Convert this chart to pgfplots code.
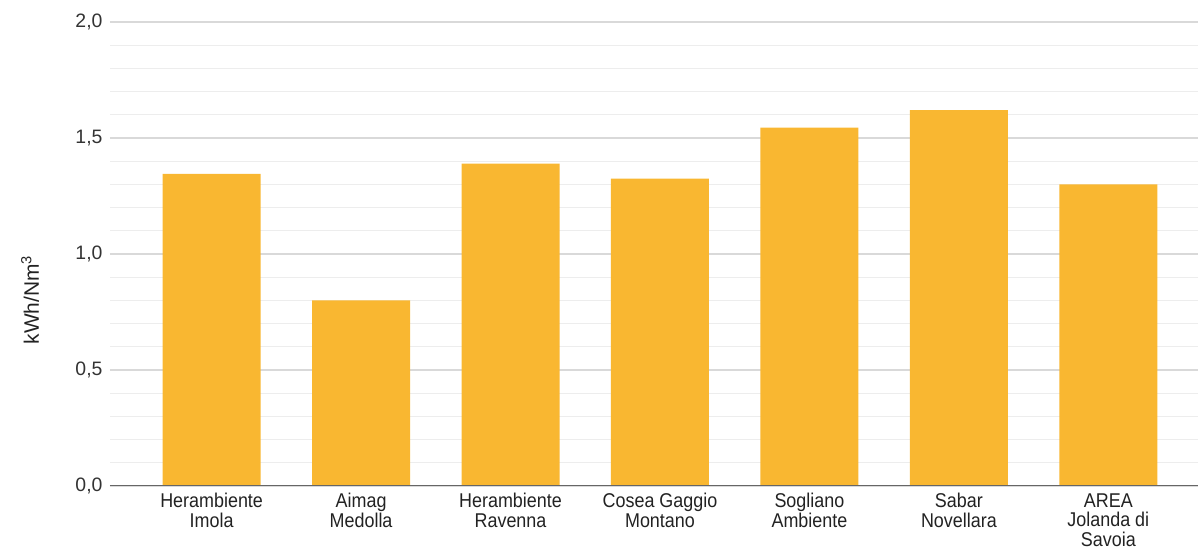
\documentclass[border=0pt]{standalone}
\usepackage{pgfplots}
\pgfplotsset{compat=1.18}
\usepackage{fontspec}
\setmainfont{Liberation Sans}
\newfontfamily\narrow[FakeStretch=0.9]{Liberation Sans}
\definecolor{barc}{HTML}{F9B731}
\definecolor{txt}{HTML}{222222}
\definecolor{tick}{HTML}{333333}
\begin{document}
\begin{tikzpicture}
\useasboundingbox (-110bp,-70bp) rectangle (1088bp,486bp);
\begin{axis}[at={(0,0)}, anchor=south west, scale only axis,
  width=1088bp, height=464bp,
  xmin=-0.68, xmax=6.6, ymin=0, ymax=2,
  axis line style={draw=none},
  major tick length=0pt, minor tick length=0pt,
  ytick={0,0.5,1,1.5,2}, minor y tick num=4,
  ymajorgrids, yminorgrids,
  major grid style={color=black!15, line width=1.2bp},
  minor grid style={color=black!7, line width=1bp},
  yticklabel style={font=\fontsize{19.5}{22}\selectfont, text=tick, xshift=-4bp},
  /pgf/number format/.cd, fixed, fixed zerofill, precision=1, use comma, assume math mode=true,
  /pgfplots/.cd,
  xtick={0,1,2,3,4,5,6},
  xticklabels={{Herambiente\\Imola},{Aimag\\Medolla},{Herambiente\\Ravenna},{Cosea Gaggio\\Montano},{Sogliano\\Ambiente},{Sabar\\Novellara},{AREA\\Jolanda di\\Savoia}},
  xticklabel style={font=\narrow\fontsize{20}{19.5}\selectfont, text=txt, align=center, yshift=-4bp},
  ylabel={kWh/Nm\textsuperscript{3}},
  ylabel style={at={(axis description cs:0,0.5)}, anchor=center, xshift=-46bp, yshift=80bp, font=\fontsize{21}{24}\selectfont, text=txt},
]
\addplot[ybar, bar width=98bp, fill=barc, draw=none] coordinates {
  (0,1.345) (1,0.80) (2,1.39) (3,1.325) (4,1.545) (5,1.62) (6,1.30)
};
\draw[color=black!60, line width=1.2bp] (axis cs:-0.68,0) -- (axis cs:6.6,0);
\end{axis}
\end{tikzpicture}
\end{document}
